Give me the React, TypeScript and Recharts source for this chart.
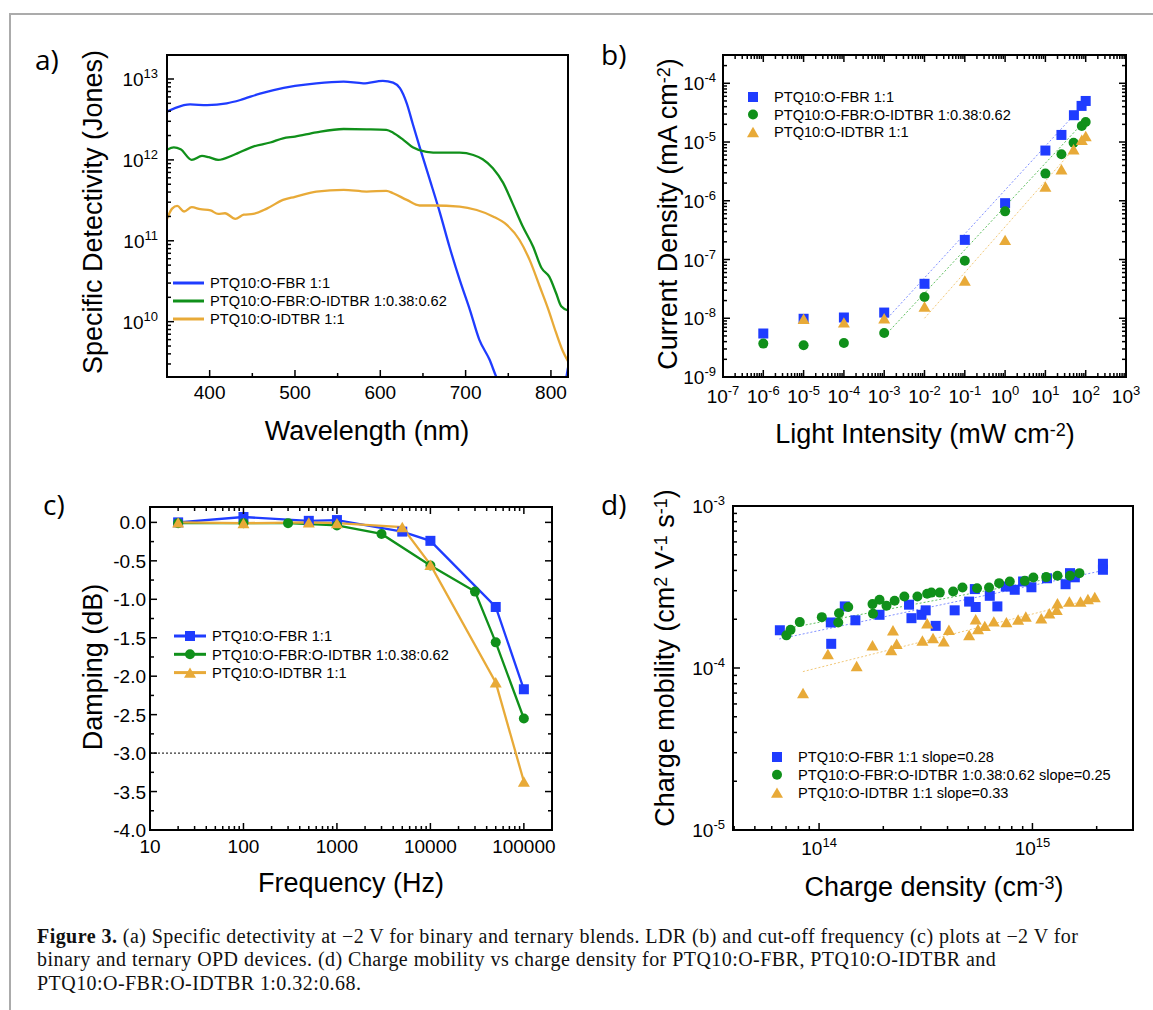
import React from 'react';
import { ComposedChart, Line, Scatter, XAxis, YAxis, ReferenceLine } from 'recharts';

const FONT = '"Liberation Sans", Arial, Helvetica, sans-serif';
const BLUE = '#1f3cff';
const GREEN = '#10901a';
const ORANGE = '#e8aa38';
const BLUE_FIT = '#8090ff';
const GREEN_FIT = '#60c060';
const ORANGE_FIT = '#f2c878';

// ---------- Panel a: specific detectivity vs wavelength ----------
const aFbrWavelength = [350, 360, 377, 397, 420, 436, 459, 475, 500, 525, 557, 580, 603, 615, 623, 631, 638, 646, 658, 670, 681, 693, 705, 716, 728, 736, 750, 775, 800, 812, 820];
const aFbrDetectivity = [3.95e12, 4.4e12, 4.85e12, 4.75e12, 5.0e12, 5.5e12, 6.6e12, 7.3e12, 8.2e12, 8.85e12, 9.27e12, 8.85e12, 9.5e12, 9.0e12, 7.7e12, 5.0e12, 2.8e12, 1.46e12, 5.7e11, 2.2e11, 8.5e10, 3.3e10, 1.4e10, 6.0e9, 3.4e9, 2.07e9, 1.1e9, 6.5e8, 6.0e8, 1.0e9, 2.7e9];
const aTernaryWavelength = [350, 358, 366, 379, 391, 399, 410, 428, 451, 471, 486, 500, 525, 557, 584, 607, 615, 627, 638, 654, 670, 693, 709, 720, 732, 744, 755, 767, 779, 789, 798, 806, 812, 820];
const aTernaryDetectivity = [1.33e12, 1.43e12, 1.35e12, 1.0e12, 1.12e12, 1.08e12, 1.0e12, 1.15e12, 1.46e12, 1.64e12, 1.85e12, 1.94e12, 2.19e12, 2.41e12, 2.39e12, 2.35e12, 2.17e12, 1.77e12, 1.43e12, 1.26e12, 1.23e12, 1.23e12, 1.15e12, 1.02e12, 7.9e11, 5.2e11, 2.9e11, 1.5e11, 8.5e10, 4.6e10, 3.6e10, 2.26e10, 1.55e10, 1.38e10];
const aIdtbrWavelength = [350, 356, 362, 370, 379, 389, 401, 410, 418, 430, 440, 451, 467, 486, 500, 525, 557, 584, 607, 615, 631, 646, 662, 693, 713, 732, 748, 763, 775, 787, 797, 806, 814, 820];
const aIdtbrDetectivity = [1.87e11, 2.5e11, 2.7e11, 2.3e11, 2.6e11, 2.46e11, 2.37e11, 2.15e11, 2.19e11, 1.87e11, 2.1e11, 2.15e11, 2.5e11, 3.2e11, 3.5e11, 4.06e11, 4.26e11, 4.06e11, 4.14e11, 3.87e11, 3.2e11, 2.73e11, 2.73e11, 2.65e11, 2.4e11, 2.0e11, 1.58e11, 1.03e11, 5.8e10, 2.7e10, 1.41e10, 7.3e9, 4.3e9, 3.24e9];
const aLegend = ['PTQ10:O-FBR 1:1', 'PTQ10:O-FBR:O-IDTBR 1:0.38:0.62', 'PTQ10:O-IDTBR 1:1'];

// ---------- Panel b: current density vs light intensity ----------
const bFbrIntensity = [1e-6, 1e-5, 1e-4, 1e-3, 1e-2, 1e-1, 1, 10, 25, 51, 79, 100];
const bFbrCurrent = [5.5e-9, 9.8e-9, 1.03e-8, 1.25e-8, 3.86e-8, 2.16e-7, 9.1e-7, 7.16e-6, 1.32e-5, 2.86e-5, 4.12e-5, 5.0e-5];
const bTernaryIntensity = [1e-6, 1e-5, 1e-4, 1e-3, 1e-2, 1e-1, 1, 10, 25, 50, 80, 100];
const bTernaryCurrent = [3.7e-9, 3.48e-9, 3.8e-9, 5.6e-9, 2.3e-8, 9.5e-8, 6.6e-7, 2.9e-6, 6.2e-6, 9.7e-6, 1.88e-5, 2.19e-5];
const bIdtbrIntensity = [1e-5, 1e-4, 1e-3, 1e-2, 1e-1, 1, 10, 25, 50, 80, 100];
const bIdtbrCurrent = [9.8e-9, 8.5e-9, 1.0e-8, 1.58e-8, 4.4e-8, 2.16e-7, 1.75e-6, 3.45e-6, 7.55e-6, 1.09e-5, 1.27e-5];
const bFbrFitIntensity = [1.2e-3, 90];
const bFbrFitCurrent = [1.0e-8, 4.4e-5];
const bTernaryFitIntensity = [1.2e-3, 95];
const bTernaryFitCurrent = [5.6e-9, 2.3e-5];
const bIdtbrFitIntensity = [1.0e-2, 100];
const bIdtbrFitCurrent = [1.0e-8, 1.3e-5];
const bLegend = ['PTQ10:O-FBR 1:1', 'PTQ10:O-FBR:O-IDTBR 1:0.38:0.62', 'PTQ10:O-IDTBR 1:1'];

// ---------- Panel c: damping vs frequency ----------
const cFbrFrequency = [20, 100, 500, 1000, 5000, 10000, 50000, 100000];
const cFbrDamping = [0.0, 0.07, 0.02, 0.03, -0.12, -0.24, -1.1, -2.17];
const cTernaryFrequency = [20, 100, 300, 1000, 3000, 10000, 30000, 50000, 100000];
const cTernaryDamping = [-0.01, -0.01, -0.01, -0.04, -0.15, -0.56, -0.9, -1.56, -2.55];
const cIdtbrFrequency = [20, 100, 500, 1000, 5000, 10000, 50000, 100000];
const cIdtbrDamping = [0.0, -0.01, 0.0, -0.01, -0.06, -0.55, -2.08, -3.37];
const cCutoff = -3;
const cLegend = ['PTQ10:O-FBR 1:1', 'PTQ10:O-FBR:O-IDTBR 1:0.38:0.62', 'PTQ10:O-IDTBR 1:1'];

// ---------- Panel d: charge mobility vs charge density ----------
const dFbrDensity = [6.55e13, 1.135e14, 1.14e14, 1.32e14, 1.48e14, 1.92e14, 2.64e14, 2.71e14, 3.02e14, 3.16e14, 3.52e14, 4.32e14, 5.05e14, 5.42e14, 5.37e14, 6.31e14, 6.85e14, 7.5e14, 8.26e14, 9.04e14, 9.89e14, 1.17e15, 1.43e15, 1.5e15, 1.58e15, 2.14e15, 2.14e15];
const dFbrMobility = [1.71e-4, 1.91e-4, 1.41e-4, 2.4e-4, 1.97e-4, 2.13e-4, 2.46e-4, 2.03e-4, 2.13e-4, 2.27e-4, 1.82e-4, 2.27e-4, 2.57e-4, 2.38e-4, 3.07e-4, 2.79e-4, 2.4e-4, 3.18e-4, 3.04e-4, 3.42e-4, 3.15e-4, 3.58e-4, 3.29e-4, 3.85e-4, 3.63e-4, 4.4e-4, 4.04e-4];
const dTernaryDensity = [7.03e13, 7.35e13, 8.12e13, 1.03e14, 1.23e14, 1.24e14, 1.37e14, 1.78e14, 1.79e14, 1.92e14, 2.07e14, 2.26e14, 2.51e14, 2.89e14, 3.21e14, 3.36e14, 3.68e14, 4.25e14, 4.7e14, 5.5e14, 6.26e14, 6.98e14, 7.83e14, 9.21e14, 1.01e15, 1.16e15, 1.31e15, 1.5e15, 1.66e15];
const dTernaryMobility = [1.59e-4, 1.72e-4, 1.92e-4, 2.06e-4, 1.91e-4, 2.18e-4, 2.38e-4, 2.48e-4, 2.16e-4, 2.64e-4, 2.42e-4, 2.6e-4, 2.76e-4, 2.76e-4, 2.87e-4, 2.92e-4, 2.92e-4, 2.97e-4, 3.14e-4, 3.11e-4, 3.14e-4, 3.34e-4, 3.42e-4, 3.45e-4, 3.62e-4, 3.64e-4, 3.71e-4, 3.71e-4, 3.85e-4];
const dIdtbrDensity = [8.41e13, 1.1e14, 1.5e14, 1.78e14, 2.22e14, 2.18e14, 2.31e14, 3.05e14, 3.21e14, 3.42e14, 3.84e14, 4.06e14, 5.05e14, 5.42e14, 5.56e14, 5.98e14, 6.59e14, 7.55e14, 8.57e14, 9.31e14, 1.1e15, 1.2e15, 1.3e15, 1.31e15, 1.49e15, 1.68e15, 1.82e15, 1.96e15];
const dIdtbrMobility = [7.0e-5, 1.22e-4, 1.03e-4, 1.38e-4, 1.71e-4, 1.29e-4, 1.41e-4, 1.48e-4, 1.89e-4, 1.53e-4, 1.46e-4, 1.72e-4, 1.6e-4, 2.0e-4, 1.74e-4, 1.82e-4, 1.94e-4, 1.92e-4, 1.99e-4, 2.08e-4, 2.03e-4, 2.18e-4, 2.29e-4, 2.51e-4, 2.57e-4, 2.57e-4, 2.67e-4, 2.74e-4];
const dFbrFitDensity = [6.5e13, 2.15e15];
const dFbrFitMobility = [1.51e-4, 4.0e-4];
const dTernaryFitDensity = [7.0e13, 1.66e15];
const dTernaryFitMobility = [1.75e-4, 3.86e-4];
const dIdtbrFitDensity = [8.4e13, 1.96e15];
const dIdtbrFitMobility = [9.5e-5, 2.69e-4];
const dLegend = ['PTQ10:O-FBR 1:1 slope=0.28', 'PTQ10:O-FBR:O-IDTBR 1:0.38:0.62 slope=0.25', 'PTQ10:O-IDTBR 1:1 slope=0.33'];

// ---------- helpers ----------
const zip = (xs: number[], ys: number[]) => xs.map((x, i) => ({ x, y: ys[i] }));

function logTickValues(lo: number, hi: number): number[] {
  const out: number[] = [];
  for (let e = Math.floor(Math.log10(lo)); e <= Math.ceil(Math.log10(hi)); e++) {
    for (let m = 1; m <= 9; m++) {
      const v = m * Math.pow(10, e);
      if (v >= lo * 0.9999 && v <= hi * 1.0001) out.push(v);
    }
  }
  return out;
}
const isDecade = (v: number) => Math.abs(Math.log10(v) - Math.round(Math.log10(v))) < 1e-6;
const pow10 = (v: number) => {
  const e = Math.round(Math.log10(v));
  return [
    <tspan key="b">10</tspan>,
    <tspan key="e" dy={-8} fontSize={13}>{String(e)}</tspan>,
  ];
};
const plain = (v: number) => String(v);
const fixed1 = (v: number) => v.toFixed(1);

type Kind = 'square' | 'circle' | 'triangle';
function Mark({ kind, cx, cy, size, color }: { kind: Kind; cx: number; cy: number; size: number; color: string }) {
  if (kind === 'square') return <rect x={cx - size / 2} y={cy - size / 2} width={size} height={size} fill={color} />;
  if (kind === 'circle') return <circle cx={cx} cy={cy} r={size / 2} fill={color} />;
  const h = size * 0.87;
  return <polygon points={`${cx - size / 2},${cy + h / 2} ${cx + size / 2},${cy + h / 2} ${cx},${cy - h / 2}`} fill={color} />;
}

const T = 12, R = 40, YW = 90, XH = 60;

type PanelProps = {
  box: { l: number; t: number; r: number; b: number };
  xDomain: [number, number];
  yDomain: [number, number];
  xScale: 'log' | 'linear';
  yScale: 'log' | 'linear';
  xTicks: number[];
  yTicks: number[];
  xIsMajor: (v: number) => boolean;
  yIsMajor: (v: number) => boolean;
  xFmt: (v: number) => any;
  yFmt: (v: number) => any;
  mirror: boolean;
  xLabelDy: number;
  yLabelGap: number;
  children: any;
};

function Panel(p: PanelProps) {
  const pw = p.box.r - p.box.l;
  const ph = p.box.b - p.box.t;
  const W = YW + pw + R;
  const H = T + ph + XH;
  const pl = YW, pr = YW + pw, pt = T, pb = T + ph;
  const xTick = (tp: any) => {
    const v = tp.payload.value;
    const x = tp.x;
    const major = p.xIsMajor(v);
    const len = major ? 7 : 4;
    return (
      <g>
        <line x1={x} x2={x} y1={pb} y2={pb - len} stroke="#000" strokeWidth={1.5} />
        {p.mirror && <line x1={x} x2={x} y1={pt} y2={pt + len} stroke="#000" strokeWidth={1.5} />}
        {major && (
          <text x={x} y={pb + p.xLabelDy} textAnchor="middle" fontFamily={FONT} fontSize={19} fill="#000">
            {p.xFmt(v)}
          </text>
        )}
      </g>
    );
  };
  const yTick = (tp: any) => {
    const v = tp.payload.value;
    const y = tp.y;
    const major = p.yIsMajor(v);
    const len = major ? 7 : 4;
    return (
      <g>
        <line x1={pl} x2={pl + len} y1={y} y2={y} stroke="#000" strokeWidth={1.5} />
        {p.mirror && <line x1={pr} x2={pr - len} y1={y} y2={y} stroke="#000" strokeWidth={1.5} />}
        {major && (
          <text x={pl - p.yLabelGap} y={y + 7} textAnchor="end" fontFamily={FONT} fontSize={19} fill="#000">
            {p.yFmt(v)}
          </text>
        )}
      </g>
    );
  };
  return (
    <div style={{ position: 'absolute', left: p.box.l - YW, top: p.box.t - T, width: W, height: H }}>
      <ComposedChart width={W} height={H} margin={{ top: T, right: R, bottom: 0, left: 0 }}>
        <XAxis
          type="number"
          dataKey="x"
          scale={p.xScale}
          domain={p.xDomain}
          allowDataOverflow
          ticks={p.xTicks}
          tick={xTick}
          tickLine={false}
          axisLine={false}
          interval={0}
          height={XH}
        />
        <YAxis
          type="number"
          dataKey="y"
          scale={p.yScale}
          domain={p.yDomain}
          allowDataOverflow
          ticks={p.yTicks}
          tick={yTick}
          tickLine={false}
          axisLine={false}
          interval={0}
          width={YW}
        />
        {p.children}
      </ComposedChart>
      <div
        style={{
          position: 'absolute',
          left: YW - 1,
          top: T - 1,
          width: pw + 2,
          height: ph + 2,
          border: '2px solid #000',
          boxSizing: 'border-box',
          pointerEvents: 'none',
        }}
      />
    </div>
  );
}

const shapeFn = (kind: Kind, size: number, color: string) => (sp: any) => (
  <Mark kind={kind} cx={sp.cx} cy={sp.cy} size={size} color={color} />
);

function Title({ x, y, rotate, children }: { x: number; y: number; rotate?: boolean; children: any }) {
  return (
    <div
      style={{
        position: 'absolute',
        left: x,
        top: y,
        transform: rotate ? 'translate(-50%, -50%) rotate(-90deg)' : 'translate(-50%, -50%)',
        fontFamily: FONT,
        fontSize: 27,
        lineHeight: '27px',
        whiteSpace: 'nowrap',
        color: '#000',
      }}
    >
      {children}
    </div>
  );
}

function Letter({ x, baseline, text }: { x: number; baseline: number; text: string }) {
  return (
    <div
      style={{
        position: 'absolute',
        left: x,
        top: baseline - 25,
        fontFamily: '"Open Sans", "Noto Sans", sans-serif',
        fontSize: 28,
        lineHeight: '28px',
        whiteSpace: 'nowrap',
        color: '#000',
      }}
    >
      {text}
    </div>
  );
}

type LegendRow = { label: string; color: string; kind: Kind; size: number };
function LegendBox({
  left, top, rows, rowGap, line, markerX, textX,
}: { left: number; top: number; rows: LegendRow[]; rowGap: number; line?: [number, number]; markerX: number; textX: number }) {
  const h = rowGap * rows.length + 10;
  return (
    <svg style={{ position: 'absolute', left, top, overflow: 'visible' }} width={420} height={h}>
      {rows.map((r, i) => {
        const cy = 8 + i * rowGap;
        return (
          <g key={i}>
            {line && <line x1={line[0]} x2={line[1]} y1={cy} y2={cy} stroke={r.color} strokeWidth={3} />}
            {r.size > 0 && <Mark kind={r.kind} cx={markerX} cy={cy} size={r.size} color={r.color} />}
            <text x={textX} y={cy + 5.2} fontFamily={FONT} fontSize={14.6} fill="#000">
              {r.label}
            </text>
          </g>
        );
      })}
    </svg>
  );
}

// ---------- data tables ----------
const aFbr = zip(aFbrWavelength, aFbrDetectivity);
const aTernary = zip(aTernaryWavelength, aTernaryDetectivity);
const aIdtbr = zip(aIdtbrWavelength, aIdtbrDetectivity);
const bFbr = zip(bFbrIntensity, bFbrCurrent);
const bTernary = zip(bTernaryIntensity, bTernaryCurrent);
const bIdtbr = zip(bIdtbrIntensity, bIdtbrCurrent);
const bFbrFit = zip(bFbrFitIntensity, bFbrFitCurrent);
const bTernaryFit = zip(bTernaryFitIntensity, bTernaryFitCurrent);
const bIdtbrFit = zip(bIdtbrFitIntensity, bIdtbrFitCurrent);
const cFbr = zip(cFbrFrequency, cFbrDamping);
const cTernary = zip(cTernaryFrequency, cTernaryDamping);
const cIdtbr = zip(cIdtbrFrequency, cIdtbrDamping);
const dFbr = zip(dFbrDensity, dFbrMobility);
const dTernary = zip(dTernaryDensity, dTernaryMobility);
const dIdtbr = zip(dIdtbrDensity, dIdtbrMobility);
const dFbrFit = zip(dFbrFitDensity, dFbrFitMobility);
const dTernaryFit = zip(dTernaryFitDensity, dTernaryFitMobility);
const dIdtbrFit = zip(dIdtbrFitDensity, dIdtbrFitMobility);

const aXTicks = [400, 450, 500, 550, 600, 650, 700, 750, 800];
const aYDomain: [number, number] = [2.07e9, 1.98e13];
const bXDomain: [number, number] = [1e-7, 1e3];
const bYDomain: [number, number] = [1e-9, 3.03e-4];
const cXDomain: [number, number] = [10, 2e5];
const cYDomain: [number, number] = [-4, 0.2];
const cYTicks = Array.from({ length: 17 }, (_, i) => -4 + i * 0.25);
const dXDomain: [number, number] = [3.95e13, 2.96e15];
const dYDomain: [number, number] = [1e-5, 1e-3];

const cDot = (kind: Kind, size: number, color: string) => (dp: any) => (
  <Mark key={`${kind}-${dp.index}`} kind={kind} cx={dp.cx} cy={dp.cy} size={size} color={color} />
);

const supStyle = { fontSize: 18, verticalAlign: 'top', lineHeight: '18px' } as const;

export default function App() {
  return (
    <div style={{ position: 'absolute', left: 0, top: 0, width: 1153, height: 1010, background: '#fff', overflow: 'hidden' }}>
      {/* page frame */}
      <div style={{ position: 'absolute', left: 9, top: 13, width: 1144, height: 0, borderTop: '2px solid #ababab' }} />
      <div style={{ position: 'absolute', left: 9, top: 13, width: 0, height: 997, borderLeft: '2px solid #ababab' }} />

      {/* ---- a ---- */}
      <Letter x={35} baseline={70} text="a)" />
      <Panel
        box={{ l: 167, t: 55, r: 568, b: 377 }}
        xDomain={[350, 820]}
        yDomain={aYDomain}
        xScale="linear"
        yScale="log"
        xTicks={aXTicks}
        yTicks={logTickValues(aYDomain[0], aYDomain[1])}
        xIsMajor={(v) => v % 100 === 0}
        yIsMajor={isDecade}
        xFmt={plain}
        yFmt={pow10}
        mirror={false}
        xLabelDy={22}
        yLabelGap={9}
      >
        <Line data={aFbr} dataKey="y" type="monotone" stroke={BLUE} strokeWidth={2.3} dot={false} activeDot={false} isAnimationActive={false} />
        <Line data={aTernary} dataKey="y" type="monotone" stroke={GREEN} strokeWidth={2.3} dot={false} activeDot={false} isAnimationActive={false} />
        <Line data={aIdtbr} dataKey="y" type="monotone" stroke={ORANGE} strokeWidth={2.3} dot={false} activeDot={false} isAnimationActive={false} />
      </Panel>
      <LegendBox
        left={170}
        top={275}
        rowGap={18}
        line={[3, 34]}
        markerX={0}
        textX={40}
        rows={[
          { label: aLegend[0], color: BLUE, kind: 'square', size: 0 },
          { label: aLegend[1], color: GREEN, kind: 'circle', size: 0 },
          { label: aLegend[2], color: ORANGE, kind: 'triangle', size: 0 },
        ]}
      />
      <Title x={93} y={212} rotate>Specific Detectivity (Jones)</Title>
      <Title x={367} y={431}>Wavelength (nm)</Title>

      {/* ---- b ---- */}
      <Letter x={601} baseline={65} text="b)" />
      <Panel
        box={{ l: 723, t: 55, r: 1126, b: 377 }}
        xDomain={bXDomain}
        yDomain={bYDomain}
        xScale="log"
        yScale="log"
        xTicks={logTickValues(bXDomain[0], bXDomain[1])}
        yTicks={logTickValues(bYDomain[0], bYDomain[1])}
        xIsMajor={isDecade}
        yIsMajor={isDecade}
        xFmt={pow10}
        yFmt={pow10}
        mirror={true}
        xLabelDy={26}
        yLabelGap={7}
      >
        <Line data={bFbrFit} dataKey="y" type="linear" stroke={BLUE_FIT} strokeWidth={1} strokeDasharray="2 2" dot={false} activeDot={false} isAnimationActive={false} />
        <Line data={bTernaryFit} dataKey="y" type="linear" stroke={GREEN_FIT} strokeWidth={1} strokeDasharray="2 2" dot={false} activeDot={false} isAnimationActive={false} />
        <Line data={bIdtbrFit} dataKey="y" type="linear" stroke={ORANGE_FIT} strokeWidth={1} strokeDasharray="2 2" dot={false} activeDot={false} isAnimationActive={false} />
        <Scatter data={bFbr} dataKey="y" shape={shapeFn('square', 10, BLUE)} isAnimationActive={false} />
        <Scatter data={bTernary} dataKey="y" shape={shapeFn('circle', 10, GREEN)} isAnimationActive={false} />
        <Scatter data={bIdtbr} dataKey="y" shape={shapeFn('triangle', 12, ORANGE)} isAnimationActive={false} />
      </Panel>
      <LegendBox
        left={743}
        top={89}
        rowGap={17.5}
        markerX={10}
        textX={31}
        rows={[
          { label: bLegend[0], color: BLUE, kind: 'square', size: 10 },
          { label: bLegend[1], color: GREEN, kind: 'circle', size: 10 },
          { label: bLegend[2], color: ORANGE, kind: 'triangle', size: 12 },
        ]}
      />
      <Title x={668} y={214} rotate>
        Current Density (mA cm<sup style={supStyle}>-2</sup>)
      </Title>
      <Title x={925} y={434}>
        Light Intensity (mW cm<sup style={supStyle}>-2</sup>)
      </Title>

      {/* ---- c ---- */}
      <Letter x={43} baseline={515} text="c)" />
      <Panel
        box={{ l: 150, t: 507, r: 552, b: 830 }}
        xDomain={cXDomain}
        yDomain={cYDomain}
        xScale="log"
        yScale="linear"
        xTicks={logTickValues(cXDomain[0], cXDomain[1])}
        yTicks={cYTicks}
        xIsMajor={isDecade}
        yIsMajor={(v) => Math.abs(v * 2 - Math.round(v * 2)) < 1e-6}
        xFmt={plain}
        yFmt={fixed1}
        mirror={true}
        xLabelDy={23}
        yLabelGap={4}
      >
        <ReferenceLine y={cCutoff} stroke="#000" strokeWidth={1} strokeDasharray="2 2" />
        <Line data={cFbr} dataKey="y" type="linear" stroke={BLUE} strokeWidth={2.3} dot={cDot('square', 10, BLUE)} activeDot={false} isAnimationActive={false} />
        <Line data={cTernary} dataKey="y" type="linear" stroke={GREEN} strokeWidth={2.3} dot={cDot('circle', 10, GREEN)} activeDot={false} isAnimationActive={false} />
        <Line data={cIdtbr} dataKey="y" type="linear" stroke={ORANGE} strokeWidth={2.3} dot={cDot('triangle', 12, ORANGE)} activeDot={false} isAnimationActive={false} />
      </Panel>
      <LegendBox
        left={172}
        top={628}
        rowGap={18.3}
        line={[2, 34]}
        markerX={18}
        textX={40}
        rows={[
          { label: cLegend[0], color: BLUE, kind: 'square', size: 10 },
          { label: cLegend[1], color: GREEN, kind: 'circle', size: 10 },
          { label: cLegend[2], color: ORANGE, kind: 'triangle', size: 12 },
        ]}
      />
      <Title x={93} y={667} rotate>Damping (dB)</Title>
      <Title x={351} y={883}>Frequency (Hz)</Title>

      {/* ---- d ---- */}
      <Letter x={601} baseline={515} text="d)" />
      <Panel
        box={{ l: 733, t: 506, r: 1133, b: 830 }}
        xDomain={dXDomain}
        yDomain={dYDomain}
        xScale="log"
        yScale="log"
        xTicks={logTickValues(dXDomain[0], dXDomain[1])}
        yTicks={logTickValues(dYDomain[0], dYDomain[1])}
        xIsMajor={isDecade}
        yIsMajor={isDecade}
        xFmt={pow10}
        yFmt={pow10}
        mirror={false}
        xLabelDy={25}
        yLabelGap={8}
      >
        <Line data={dFbrFit} dataKey="y" type="linear" stroke={BLUE_FIT} strokeWidth={1} strokeDasharray="2 2" dot={false} activeDot={false} isAnimationActive={false} />
        <Line data={dTernaryFit} dataKey="y" type="linear" stroke={GREEN_FIT} strokeWidth={1} strokeDasharray="2 2" dot={false} activeDot={false} isAnimationActive={false} />
        <Line data={dIdtbrFit} dataKey="y" type="linear" stroke={ORANGE_FIT} strokeWidth={1} strokeDasharray="2 2" dot={false} activeDot={false} isAnimationActive={false} />
        <Scatter data={dFbr} dataKey="y" shape={shapeFn('square', 10, BLUE)} isAnimationActive={false} />
        <Scatter data={dTernary} dataKey="y" shape={shapeFn('circle', 10, GREEN)} isAnimationActive={false} />
        <Scatter data={dIdtbr} dataKey="y" shape={shapeFn('triangle', 12, ORANGE)} isAnimationActive={false} />
      </Panel>
      <LegendBox
        left={767}
        top={749}
        rowGap={17.8}
        markerX={10}
        textX={31}
        rows={[
          { label: dLegend[0], color: BLUE, kind: 'square', size: 10 },
          { label: dLegend[1], color: GREEN, kind: 'circle', size: 10 },
          { label: dLegend[2], color: ORANGE, kind: 'triangle', size: 12 },
        ]}
      />
      <Title x={665} y={658} rotate>
        Charge mobility (cm<sup style={supStyle}>2</sup> V<sup style={supStyle}>-1</sup> s<sup style={supStyle}>-1</sup>)
      </Title>
      <Title x={934} y={887}>
        Charge density (cm<sup style={supStyle}>-3</sup>)
      </Title>

      {/* caption */}
      <div
        style={{
          position: 'absolute',
          left: 37,
          top: 924.5,
          fontFamily: '"Liberation Serif", "Times New Roman", serif',
          fontSize: 20,
          letterSpacing: '0.45px',
          lineHeight: '23.5px',
          whiteSpace: 'nowrap',
          color: '#111',
        }}
      >
        <b>Figure 3.</b> (a) Specific detectivity at −2 V for binary and ternary blends. LDR (b) and cut-off frequency (c) plots at −2 V for
        <br />
        binary and ternary OPD devices. (d) Charge mobility vs charge density for PTQ10:O-FBR, PTQ10:O-IDTBR and
        <br />
        PTQ10:O-FBR:O-IDTBR 1:0.32:0.68.
      </div>
    </div>
  );
}
